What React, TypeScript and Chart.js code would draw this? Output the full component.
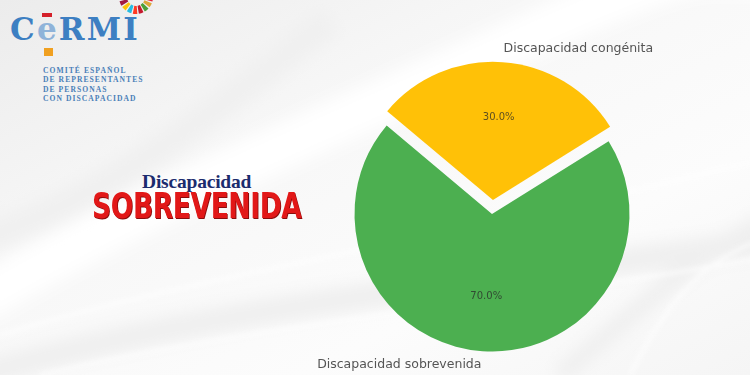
import React, { useEffect, useRef } from "react";
import { Chart, registerables } from "chart.js";

Chart.register(...registerables);

const categories: string[] = ["Discapacidad congénita", "Discapacidad sobrevenida"];
const values: number[] = [30, 70];
const sliceColors: string[] = ["#FFC107", "#4CAF50"];
const explodeOffsets: number[] = [56, 0];

const pieLabels = {
  id: "pieLabels",
  afterDatasetsDraw(chart: any) {
    const ctx: CanvasRenderingContext2D = chart.ctx;
    const meta = chart.getDatasetMeta(0);
    const ds = chart.data.datasets[0];
    const data: number[] = ds.data as number[];
    const total = data.reduce((a, b) => a + b, 0);
    ctx.save();
    meta.data.forEach((arc: any, i: number) => {
      const { x, y, startAngle, endAngle, outerRadius } = arc.getProps(
        ["x", "y", "startAngle", "endAngle", "outerRadius"],
        true
      );
      const mid = (startAngle + endAngle) / 2;
      const shift = (explodeOffsets[i] || 0) / 4;
      const cx = x + Math.cos(mid) * shift;
      const cy = y + Math.sin(mid) * shift;
      // percentage
      ctx.font = "10px 'DejaVu Sans'";
      ctx.fillStyle = "rgba(40,40,40,0.75)";
      ctx.textAlign = "center";
      ctx.textBaseline = "middle";
      const pct = ((data[i] / total) * 100).toFixed(1) + "%";
      ctx.fillText(pct, cx + Math.cos(mid) * outerRadius * 0.6, cy + Math.sin(mid) * outerRadius * 0.6);
      // outer label
      ctx.font = "12.5px 'DejaVu Sans'";
      ctx.fillStyle = "#555";
      ctx.textAlign = Math.cos(mid) >= 0 ? "left" : "right";
      ctx.fillText(
        chart.data.labels[i],
        cx + Math.cos(mid) * outerRadius * 1.1,
        cy + Math.sin(mid) * outerRadius * 1.1
      );
    });
    ctx.restore();
  },
};

function Background() {
  return (
    <svg width={750} height={375} style={{ position: "absolute", left: 0, top: 0 }}>
      <defs>
        <linearGradient id="bg" x1="0" y1="0" x2="1" y2="1">
          <stop offset="0" stopColor="#ececec" />
          <stop offset="0.35" stopColor="#f7f7f7" />
          <stop offset="0.7" stopColor="#fcfcfc" />
          <stop offset="1" stopColor="#f5f5f5" />
        </linearGradient>
        <filter id="blur" x="-20%" y="-20%" width="140%" height="140%">
          <feGaussianBlur stdDeviation="8" />
        </filter>
        <filter id="blur2" x="-20%" y="-20%" width="140%" height="140%">
          <feGaussianBlur stdDeviation="2.5" />
        </filter>
      </defs>
      <rect x={0} y={0} width={750} height={375} fill="url(#bg)" />
      <g filter="url(#blur)" fill="none">
        <path d="M -20 300 C 150 200, 300 140, 520 40 S 700 -20, 780 -30" stroke="#ffffff" strokeWidth={45} />
        <path d="M -20 375 C 200 310, 420 290, 780 240" stroke="#efefef" strokeWidth={26} />
        <path d="M -20 240 C 120 190, 200 120, 330 20" stroke="#f0f0f0" strokeWidth={30} />
        <path d="M 560 375 C 650 300, 700 250, 780 215" stroke="#efefef" strokeWidth={18} />
      </g>
      <g filter="url(#blur2)" fill="none" opacity={0.8}>
        <path d="M 40 375 C 250 325, 500 305, 780 255" stroke="#ffffff" strokeWidth={3} />
        <path d="M 0 335 C 200 275, 420 245, 760 160" stroke="#ffffff" strokeWidth={3} />
        <path d="M 630 375 C 665 305, 700 262, 760 240" stroke="#ffffff" strokeWidth={3} />
      </g>
    </svg>
  );
}

const sdgColors = ["#e5243b", "#dda63a", "#4c9f38", "#c5192d", "#ff3a21", "#26bde2", "#fcc30b", "#a21942", "#fd6925", "#dd1367", "#fd9d24", "#bf8b2e", "#3f7e44", "#0a97d9", "#56c02b", "#00689d", "#19486a"];

function Logo() {
  const r = 13;
  const circ = 2 * Math.PI * r;
  const seg = circ / sdgColors.length;
  return (
    <div style={{ position: "absolute", left: 0, top: 0, width: 170, height: 110 }}>
      <svg width={170} height={30} style={{ position: "absolute", left: 0, top: 0 }}>
        <g transform="translate(136,-3)">
          {sdgColors.map((c, i) => (
            <circle
              key={i}
              r={r}
              fill="none"
              stroke={c}
              strokeWidth={8}
              strokeDasharray={`${seg - 1.2} ${circ - seg + 1.2}`}
              strokeDashoffset={-seg * i}
            />
          ))}
        </g>
      </svg>
      <div style={{ position: "absolute", left: 42, top: 13, width: 10, height: 4, background: "#d4202a" }} />
      <div style={{ position: "absolute", left: 44, top: 48, width: 9, height: 8, background: "#f0a020" }} />
      <div
        style={{
          position: "absolute",
          left: 10,
          top: 11,
          fontFamily: "'DejaVu Serif', 'Liberation Serif', serif",
          fontWeight: "bold",
          fontSize: 31,
          color: "#3d7fc2",
          letterSpacing: 2.2,
          whiteSpace: "nowrap",
        }}
      >
        C<span style={{ color: "#8fb3d9" }}>e</span>RMI
      </div>
      <div
        style={{
          position: "absolute",
          left: 43,
          top: 66,
          fontFamily: "'Liberation Serif', serif",
          fontWeight: "bold",
          fontSize: 7.6,
          lineHeight: "9.4px",
          color: "#4a7fb8",
          letterSpacing: 1.05,
          whiteSpace: "nowrap",
        }}
      >
        COMITÉ ESPAÑOL
        <br />
        DE REPRESENTANTES
        <br />
        DE PERSONAS
        <br />
        CON DISCAPACIDAD
      </div>
    </div>
  );
}

function Headline() {
  return (
    <>
      <div
        style={{
          position: "absolute",
          left: 142,
          top: 171,
          fontFamily: "'Liberation Serif', serif",
          fontWeight: "bold",
          fontSize: 19.5,
          color: "#1c2c6e",
          letterSpacing: -0.2,
          whiteSpace: "nowrap",
        }}
      >
        Discapacidad
      </div>
      <div
        style={{
          position: "absolute",
          left: 92,
          top: 186,
          fontFamily: "'DejaVu Sans Condensed', 'Liberation Sans Narrow', sans-serif",
          fontWeight: "bold",
          fontSize: 36,
          lineHeight: "40px",
          color: "#e21818",
          letterSpacing: -0.5,
          transform: "scale(0.82, 1)",
          transformOrigin: "left top",
          textShadow: "1px 1px 0 #8a0c0c",
          whiteSpace: "nowrap",
        }}
      >
        SOBREVENIDA
      </div>
    </>
  );
}

export default function App() {
  const canvasRef = useRef<HTMLCanvasElement | null>(null);

  useEffect(() => {
    document.body.style.margin = "0";
    const canvas = canvasRef.current;
    if (!canvas) return;
    const chart = new Chart(canvas, {
      type: "pie",
      data: {
        labels: categories,
        datasets: [
          {
            data: values,
            backgroundColor: sliceColors,
            borderWidth: 0,
            offset: explodeOffsets,
            hoverOffset: 0,
            clip: false,
          } as any,
        ],
      },
      options: {
        responsive: false,
        animation: false,
        rotation: -50,
        radius: 137.5,
        layout: { padding: { left: 342, right: 108, top: 64, bottom: 11 } },
        plugins: {
          legend: { display: false },
          tooltip: { enabled: false },
          title: { display: false },
        },
        events: [],
      } as any,
      plugins: [pieLabels],
    });
    return () => chart.destroy();
  }, []);

  return (
    <div style={{ position: "fixed", left: 0, top: 0, width: 750, height: 375, overflow: "hidden" }}>
      <Background />
      <Logo />
      <Headline />
      <canvas ref={canvasRef} width={750} height={375} style={{ position: "absolute", left: 0, top: 0 }} />
    </div>
  );
}
